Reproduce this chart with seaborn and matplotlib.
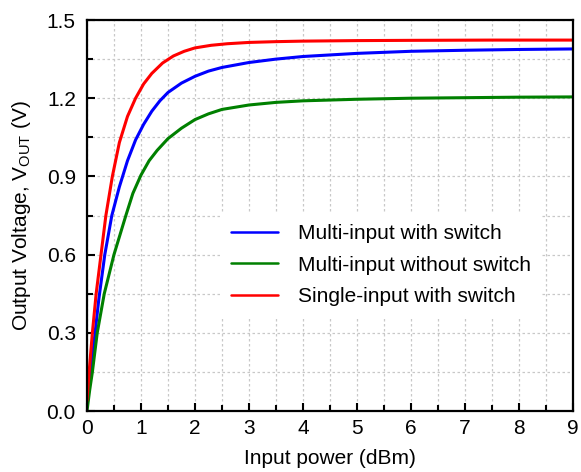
import numpy as np
import pandas as pd
import matplotlib
matplotlib.use("Agg")
import matplotlib.pyplot as plt
from matplotlib.ticker import MultipleLocator
import seaborn as sns

# Output voltage vs. input power for three rectifier configurations
multi_sw_x = [0, 0.07, 0.15, 0.22, 0.33, 0.46, 0.6, 0.75, 0.9, 1.05, 1.2, 1.35,
              1.5, 1.75, 2.0, 2.25, 2.5, 3.0, 3.5, 4.0, 5.0, 6.0, 7.0, 8.0, 9.0]
multi_sw_y = [0.02, 0.15, 0.30, 0.43, 0.60, 0.75, 0.86, 0.96, 1.04, 1.10, 1.15, 1.19,
              1.222, 1.258, 1.284, 1.304, 1.318, 1.337, 1.350, 1.360, 1.372, 1.380,
              1.384, 1.387, 1.389]

multi_nosw_x = [0, 0.05, 0.1, 0.19, 0.32, 0.5, 0.72, 0.85, 1.0, 1.15, 1.3, 1.5,
                1.75, 2.0, 2.25, 2.5, 3.0, 3.5, 4.0, 5.0, 6.0, 7.0, 8.0, 9.0]
multi_nosw_y = [0.0, 0.08, 0.15, 0.30, 0.45, 0.60, 0.75, 0.835, 0.905, 0.96, 1.0, 1.045,
                1.085, 1.118, 1.14, 1.157, 1.174, 1.184, 1.190, 1.196, 1.200, 1.202,
                1.204, 1.205]

single_sw_x = [0, 0.04, 0.1, 0.17, 0.26, 0.35, 0.47, 0.6, 0.75, 0.9, 1.05, 1.2,
               1.4, 1.6, 1.8, 2.0, 2.3, 2.6, 3.0, 3.5, 4.0, 5.0, 6.0, 7.5, 9.0]
single_sw_y = [0.04, 0.15, 0.30, 0.45, 0.60, 0.75, 0.90, 1.03, 1.13, 1.20, 1.255, 1.295,
               1.335, 1.362, 1.380, 1.393, 1.403, 1.409, 1.414, 1.417, 1.419, 1.421,
               1.422, 1.423, 1.423]

labels = ["Multi-input with switch", "Multi-input without switch", "Single-input with switch"]
colors = ["#0000ff", "#008000", "#ff0000"]

df = pd.concat([
    pd.DataFrame({"x": multi_sw_x, "y": multi_sw_y, "series": labels[0]}),
    pd.DataFrame({"x": multi_nosw_x, "y": multi_nosw_y, "series": labels[1]}),
    pd.DataFrame({"x": single_sw_x, "y": single_sw_y, "series": labels[2]}),
], ignore_index=True)

sns.set_style("ticks")
plt.rcParams["font.family"] = ["Liberation Sans", "DejaVu Sans"]
plt.rcParams["mathtext.fontset"] = "custom"
plt.rcParams["mathtext.rm"] = "Liberation Sans"
plt.rcParams["text.color"] = "black"
plt.rcParams["axes.labelcolor"] = "black"

fig = plt.figure(figsize=(5.81, 4.72), dpi=100)
ax = fig.add_axes([0.1497, 0.1292, 0.9862 - 0.1497, 0.9576 - 0.1292])

sns.lineplot(data=df, x="x", y="y", hue="series", hue_order=labels,
             palette=colors, linewidth=2.2, sort=False, estimator=None, ax=ax)

ax.set_xlim(0, 9)
ax.set_ylim(0, 1.5)
ax.xaxis.set_major_locator(MultipleLocator(1))
ax.xaxis.set_minor_locator(MultipleLocator(0.5))
ax.yaxis.set_major_locator(MultipleLocator(0.3))
ax.yaxis.set_minor_locator(MultipleLocator(0.15))
ax.set_yticklabels([f"{v:.1f}" for v in ax.get_yticks()])

ax.grid(True, which="both", color="#c8c8c8", linestyle=(0, (2, 2)), linewidth=0.9)
ax.set_axisbelow(True)

ax.tick_params(which="both", direction="in", top=False, right=False,
               labelsize=15, width=1.5, colors="black")
ax.tick_params(axis="x", pad=6)
ax.tick_params(axis="y", pad=8)
ax.tick_params(which="major", length=6)
ax.tick_params(which="minor", length=4)
for s in ax.spines.values():
    s.set_linewidth(1.6)
    s.set_color("black")

ax.set_xlabel("Input power (dBm)", fontsize=15, labelpad=8, color="black")
ax.set_ylabel(r"Output Voltage, V$_{\mathregular{OUT}}$ (V)", fontsize=15, labelpad=10,
              color="black")

leg = ax.legend(loc="center", bbox_to_anchor=(0.605, 0.373), fontsize=15,
                frameon=True, fancybox=False, framealpha=1, facecolor="white",
                edgecolor="none", handlelength=2.26, handletextpad=0.96,
                labelspacing=0.6, borderpad=0.5)
for t in leg.get_texts():
    t.set_color("black")
for h in leg.get_lines():
    h.set_linewidth(1.8)

fig.savefig("out.png", dpi=100)
